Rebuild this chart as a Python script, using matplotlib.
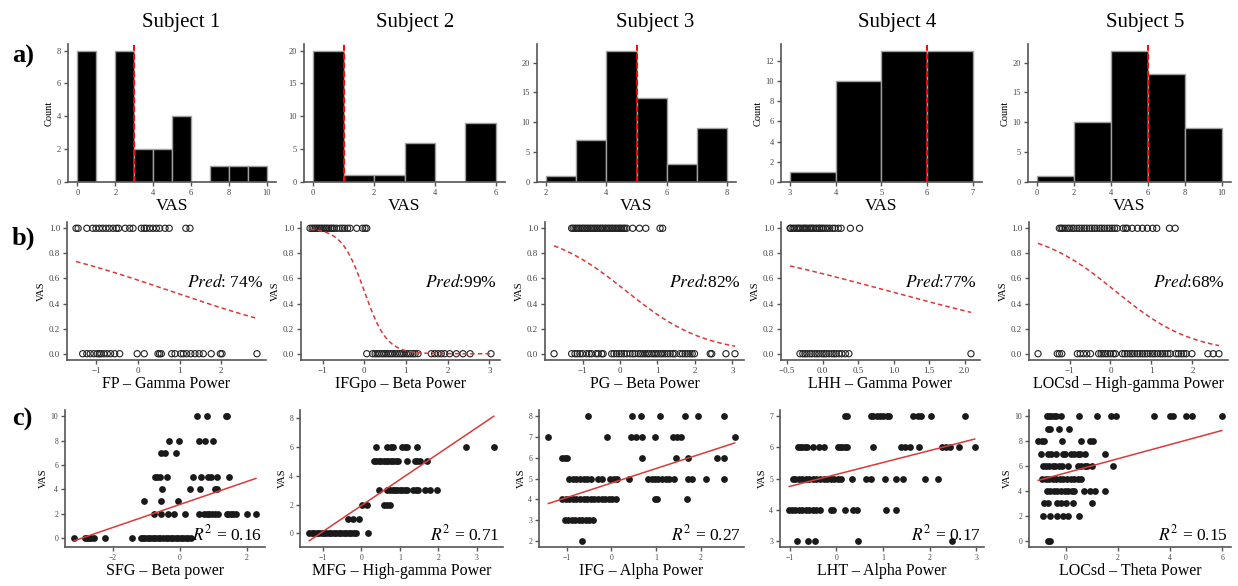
import numpy as np
import matplotlib
matplotlib.use('Agg')
import matplotlib.pyplot as plt

plt.rcParams['font.family'] = ['Liberation Serif', 'DejaVu Serif']
plt.rcParams['mathtext.fontset'] = 'stix'

subjects = ['Subject 1', 'Subject 2', 'Subject 3', 'Subject 4', 'Subject 5']

# a) VAS histograms
hist_edges = [
    [0, 1, 2, 3, 4, 5, 6, 7, 8, 9, 10],
    [0, 1, 2, 3, 4, 5, 6],
    [2, 3, 4, 5, 6, 7, 8],
    [3, 4, 5, 6, 7],
    [0, 2, 4, 6, 8, 10],
]
hist_counts = [
    [8, 0, 8, 2, 2, 4, 0, 1, 1, 1],
    [20, 1, 1, 6, 0, 9],
    [1, 7, 22, 14, 3, 9],
    [1, 10, 13, 13],
    [1, 10, 22, 18, 9],
]
vas_split = [3, 1, 5, 6, 6]

# b) logistic classification (x values of the high / low VAS trials)
b_labels = ['FP – Gamma Power', 'IFGpo – Beta Power', 'PG – Beta Power',
            'LHH – Gamma Power', 'LOCsd – High-gamma Power']
b_hi = [
    [-1.49, -1.44, -1.23, -1.09, -1.01, -0.93, -0.85, -0.77, -0.69, -0.60, -0.52, -0.47, -0.31,
     -0.20, -0.12, 0.08, 0.15, 0.20, 0.28, 0.36, 0.44, 0.52, 0.65, 0.75, 1.15, 1.25],
    [-1.30, -1.25, -1.21, -1.17, -1.13, -1.09, -1.05, -1.01, -0.97, -0.93, -0.89, -0.85, -0.80,
     -0.76, -0.72, -0.66, -0.58, -0.52, -0.47, -0.40, -0.34, -0.18, -0.04, 0.02, 0.06],
    [-1.29, -1.25, -1.20, -1.16, -1.11, -1.07, -1.02, -0.98, -0.94, -0.89, -0.85, -0.80, -0.76,
     -0.71, -0.67, -0.62, -0.58, -0.53, -0.49, -0.45, -0.40, -0.36, -0.31, -0.27, -0.22, -0.18,
     -0.13, -0.09, -0.04, 0.00, 0.04, 0.09, 0.13, 0.18, 0.34, 0.52, 0.69, 1.07, 1.14],
    [-0.46, -0.45, -0.42, -0.40, -0.37, -0.35, -0.33, -0.31, -0.28, -0.26, -0.24, -0.22, -0.19,
     -0.17, -0.15, -0.13, -0.10, -0.08, -0.05, -0.04, -0.01, 0.01, 0.04, 0.07, 0.10, 0.14, 0.17,
     0.22, 0.26, 0.39, 0.52],
    [-1.25, -1.21, -1.17, -1.11, -1.05, -1.00, -0.94, -0.89, -0.82, -0.76, -0.70, -0.64, -0.58,
     -0.51, -0.45, -0.39, -0.33, -0.26, -0.21, -0.15, -0.08, -0.02, 0.04, 0.10, 0.16, 0.31, 0.37,
     0.41, 0.53, 0.66, 0.78, 0.90, 1.03, 1.13, 1.44, 1.58],
]
b_lo = [
    [-1.33, -1.23, -1.15, -1.06, -0.98, -0.93, -0.89, -0.82, -0.74, -0.66, -0.56, -0.44, -0.02,
     0.15, 0.48, 0.52, 0.56, 0.81, 0.89, 1.03, 1.09, 1.17, 1.27, 1.37, 1.47, 1.57, 1.76, 1.98,
     2.02, 2.86],
    [0.06, 0.20, 0.26, 0.31, 0.36, 0.42, 0.47, 0.52, 0.58, 0.63, 0.68, 0.74, 0.79, 0.85, 0.90,
     0.95, 1.01, 1.06, 1.11, 1.17, 1.22, 1.29, 1.61, 1.69, 1.77, 1.85, 1.93, 2.05, 2.21, 2.37,
     2.54, 3.04],
    [-1.76, -1.29, -1.20, -1.14, -1.07, -1.00, -0.89, -0.82, -0.76, -0.64, -0.58, -0.49, -0.45,
     -0.22, -0.16, -0.09, -0.02, 0.04, 0.11, 0.18, 0.27, 0.34, 0.40, 0.49, 0.55, 0.61, 0.67,
     0.73, 0.78, 0.85, 0.91, 0.96, 1.02, 1.09, 1.14, 1.20, 1.27, 1.34, 1.41, 1.47, 1.60, 1.67,
     1.74, 1.80, 1.87, 1.93, 1.99, 2.41, 2.45, 2.83, 3.07],
    [-0.32, -0.28, -0.25, -0.22, -0.18, -0.15, -0.11, -0.08, -0.05, -0.01, 0.02, 0.05, 0.09,
     0.13, 0.16, 0.19, 0.23, 0.27, 0.32, 0.37, 2.09],
    [-1.77, -1.30, -1.25, -1.19, -0.81, -0.74, -0.66, -0.58, -0.49, -0.29, -0.23, -0.18, -0.12,
     -0.07, 0.00, 0.07, 0.12, 0.29, 0.35, 0.41, 0.48, 0.53, 0.59, 0.66, 0.72, 0.78, 0.84, 0.90,
     0.97, 1.03, 1.08, 1.15, 1.22, 1.27, 1.33, 1.40, 1.46, 1.60, 1.66, 1.73, 1.79, 1.85, 1.99,
     2.38, 2.51, 2.65],
]
logit_b0 = [0.35, 0.0, 0.155, 0.566, 0.124]
logit_b1 = [-0.45, -3.7, -0.946, -0.61, -1.054]
pred_acc = [74, 99, 82, 77, 68]
pred_sep = [' ', '', '', '', '']
b_xticks = [[-1, 0, 1, 2], [-1, 0, 1, 2, 3], [-1, 0, 1, 2, 3],
            [-0.5, 0.0, 0.5, 1.0, 1.5, 2.0], [-1, 0, 1, 2]]

# c) linear regression, VAS value -> feature values
c_labels = ['SFG – Beta power', 'MFG – High-gamma Power', 'IFG – Alpha Power',
            'LHT – Alpha Power', 'LOCsd – Theta Power']
c1 = {
    10: [0.52, 0.80, 1.37, 1.42],
    8: [-0.34, -0.02, 0.56, 0.74, 1.00],
    7: [-0.55, -0.45, -0.13],
    5: [-0.75, -0.68, -0.60, -0.38, 0.40, 0.62, 0.85, 0.92, 1.10, 1.46],
    4: [-0.52, 0.30, 0.60, 1.05, 1.12],
    3: [-1.07, -0.57, -0.05],
    2: [-0.77, -0.55, -0.35, -0.17, 0.15, 0.58, 0.72, 0.80, 0.88, 0.95, 1.05, 1.15, 1.40, 1.45,
        1.52, 1.60, 1.68, 2.02, 2.28],
    0: [-3.17, -2.83, -2.78, -2.72, -2.65, -2.57, -2.25, -1.43, -1.17, -1.10, -1.03, -0.95,
        -0.88, -0.80, -0.73, -0.65, -0.58, -0.50, -0.43, -0.35, -0.28, -0.20, -0.13, -0.05,
        0.02, 0.10, 0.17, 0.25, 0.32],
}
c2 = {
    6: [0.38, 0.68, 0.76, 0.83, 1.06, 1.13, 1.19, 1.45, 2.72, 3.45],
    5: [0.32, 0.38, 0.45, 0.51, 0.58, 0.64, 0.70, 0.76, 0.83, 0.89, 0.96, 1.18, 1.39, 1.45,
        1.52, 1.71],
    3: [0.45, 0.68, 0.75, 0.82, 0.88, 0.94, 1.00, 1.06, 1.13, 1.19, 1.35, 1.41, 1.48, 1.65,
        1.78, 1.97],
    2: [0.02, 0.15, 0.58, 0.66, 0.75],
    1: [-0.35, -0.22, -0.05],
    0: [-1.36, -1.30, -1.23, -1.17, -1.10, -1.04, -0.97, -0.91, -0.84, -0.78, -0.71, -0.65,
        -0.58, -0.52, -0.45, -0.39, -0.33, -0.27, -0.20, -0.14, 0.16],
}
c3 = {
    8: [-0.53, 0.47, 0.66, 1.09, 1.65, 1.94, 2.52],
    7: [-1.41, -0.09, 0.45, 0.55, 0.69, 0.98, 1.38, 1.46, 1.56, 2.76],
    6: [-1.10, -1.04, -0.99, 0.69, 1.44, 1.72, 2.36, 2.52],
    5: [-0.94, -0.86, -0.78, -0.69, -0.62, -0.54, -0.46, -0.30, -0.22, -0.03, 0.05, 0.13, 0.39,
        0.82, 0.90, 0.98, 1.05, 1.14, 1.22, 1.29, 1.40, 1.72, 1.80, 2.12, 2.52],
    4: [-1.10, -1.01, -0.94, -0.86, -0.78, -0.70, -0.62, -0.54, -0.46, -0.38, -0.30, -0.22,
        -0.14, -0.06, 0.02, 0.10, 0.98, 1.03, 1.70],
    3: [-1.04, -0.97, -0.88, -0.81, -0.72, -0.65, -0.56, -0.49, -0.40],
    2: [-0.65],
}
c4 = {
    7: [0.18, 0.23, 0.74, 0.79, 0.87, 0.94, 1.01, 1.09, 1.14, 1.65, 1.75, 1.82, 2.03, 2.76],
    6: [-0.83, -0.78, -0.73, -0.68, -0.63, -0.51, -0.37, -0.27, 0.03, 0.08, 0.13, 0.18, 0.23,
        0.79, 1.38, 1.48, 1.58, 1.78, 2.26, 2.36, 2.43, 2.63, 2.97],
    5: [-0.93, -0.88, -0.81, -0.73, -0.65, -0.58, -0.51, -0.43, -0.34, -0.27, -0.20, -0.12,
        -0.04, 0.03, 0.10, 0.33, 0.64, 0.74, 1.04, 1.28, 1.42, 1.90, 2.18],
    4: [-1.01, -0.95, -0.88, -0.81, -0.73, -0.65, -0.58, -0.51, -0.43, -0.34, -0.12, -0.07,
        0.18, 0.36, 0.44, 1.07, 1.28],
    3: [-0.85, -0.61, -0.45, 0.47, 2.49],
}
c5 = {
    10: [-0.73, -0.64, -0.55, -0.46, -0.37, -0.18, 0.51, 1.19, 1.74, 1.92, 3.38, 3.99, 4.11,
         4.61, 4.84, 5.98],
    9: [-0.69, -0.59, -0.27, 0.13],
    8: [-1.06, -0.91, -0.82, -0.15, 0.59, 0.91, 1.06],
    7: [-0.95, -0.69, -0.55, -0.37, -0.09, -0.04, 0.18, 0.33, 0.46, 0.55, 0.73, 1.50],
    6: [-0.88, -0.77, -0.64, -0.51, -0.40, -0.27, -0.15, 0.09, 0.46, 0.59, 0.73, 0.82, 1.01,
        1.79],
    5: [-0.91, -0.77, -0.64, -0.51, -0.37, -0.22, -0.09, 0.04, 0.18, 0.33, 0.46, 0.59],
    4: [-0.73, -0.59, -0.46, -0.33, -0.18, -0.04, 0.09, 0.22, 0.33, 0.69, 0.91, 1.13, 1.50],
    3: [-0.82, -0.69, -0.33, -0.18, 0.00, 0.27, 1.01],
    2: [-0.88, -0.59, -0.33, -0.09, 0.09, 0.51],
    0: [-0.69, -0.59],
}
c_points = [c1, c2, c3, c4, c5]
lin_a = [2.75, 1.93, 4.78, 5.13, 5.45]
lin_b = [0.94, 1.79, 0.70, 0.383, 0.569]
r2 = [0.16, 0.71, 0.27, 0.17, 0.15]
c_xticks = [[-2, 0, 2], [-1, 0, 1, 2, 3], [-1, 0, 1, 2], [-1, 0, 1, 2, 3], [0, 2, 4, 6]]
c_yticks = [[0, 2, 4, 6, 8, 10], [0, 2, 4, 6, 8], [2, 3, 4, 5, 6, 7, 8], [3, 4, 5, 6, 7],
            [0, 2, 4, 6, 8, 10]]

# layout (pixels)
W, H = 1238, 586
fig = plt.figure(figsize=(W / 100, H / 100), dpi=100)


def add_ax(left, top, w, h):
    return fig.add_axes([left / W, 1 - (top + h) / H, w / W, h / H])


def style(ax, fs):
    for s in ['top', 'right']:
        ax.spines[s].set_visible(False)
    for s in ['left', 'bottom']:
        ax.spines[s].set_color('#555555')
        ax.spines[s].set_linewidth(1.2)
    ax.tick_params(colors='#555555', labelcolor='#444444', labelsize=fs, length=3, width=1, pad=2)


red = '#d93a3a'
rows_left = [[68, 304, 537, 781, 1028], [67, 301, 545, 781, 1029], [65, 300, 539, 780, 1029]]
rows_w = [[208, 201, 199, 201, 203], [199, 199, 199, 199, 199], [200, 203, 205, 204, 202]]
rows_top = [44, 222, 410]
rows_h = [138, 138, 137]
title_x = [181, 415, 655, 897, 1145]

for i in range(5):
    # row a
    ax = add_ax(rows_left[0][i], rows_top[0], rows_w[0][i], rows_h[0])
    style(ax, 6)
    e = np.array(hist_edges[i], dtype=float)
    c = np.array(hist_counts[i])
    m = c > 0
    ax.bar(e[:-1][m], c[m], width=np.diff(e)[m], align='edge', color='black',
           edgecolor='#a0a0a0', linewidth=1)
    ax.axvline(vas_split[i], color='red', linestyle='--', linewidth=1.4, dashes=(3, 1.5))
    ax.set_xticks(e[::2] if len(e) > 7 else e[::2] if i < 3 else e)
    ax.set_xlabel('VAS', fontsize=12.5, labelpad=1)
    if i not in (1, 2):
        ax.set_ylabel('Count', fontsize=7.5, labelpad=2)
    fig.text(title_x[i] / W, 1 - 27 / H, subjects[i], fontsize=15, ha='center', va='baseline')

    # row b
    ax = add_ax(rows_left[1][i], rows_top[1], rows_w[1][i], rows_h[1])
    style(ax, 6.5)
    hi = np.array(b_hi[i])
    lo = np.array(b_lo[i])
    ax.scatter(hi, np.ones_like(hi), s=20, facecolors='none', edgecolors='#222222', linewidths=0.8)
    ax.scatter(lo, np.zeros_like(lo), s=20, facecolors='none', edgecolors='#222222', linewidths=0.8)
    xs = np.linspace(min(hi.min(), lo.min()), max(hi.max(), lo.max()), 200)
    p = 1 / (1 + np.exp(-(logit_b0[i] + logit_b1[i] * xs)))
    ax.plot(xs, p, color=red, linestyle='--', linewidth=1.1, dashes=(3, 2), zorder=3)
    ax.set_xticks(b_xticks[i])
    ax.set_yticks([0, 0.2, 0.4, 0.6, 0.8, 1.0])
    ax.set_yticklabels(['0.0', '0.2', '0.4', '0.6', '0.8', '1.0'])
    ax.set_xlabel(b_labels[i], fontsize=11.5, labelpad=1)
    ax.set_ylabel('VAS', fontsize=7.5, labelpad=2)
    ax.text(0.985, 0.56, '$Pred$:' + pred_sep[i] + '%d%%' % pred_acc[i], transform=ax.transAxes,
            ha='right', va='center', fontsize=12.5)

    # row c
    ax = add_ax(rows_left[2][i], rows_top[2], rows_w[2][i], rows_h[2])
    style(ax, 5.5)
    d = c_points[i]
    x = np.concatenate([np.array(v) for v in d.values()])
    y = np.concatenate([np.full(len(v), k) for k, v in d.items()])
    ax.scatter(x, y, s=24, color='#1a1a1a', linewidths=0)
    xs = np.array([x.min(), x.max()])
    ax.plot(xs, lin_a[i] + lin_b[i] * xs, color=red, linewidth=1.1, zorder=3)
    ax.set_xticks(c_xticks[i])
    ax.set_yticks(c_yticks[i])
    ax.set_xlabel(c_labels[i], fontsize=11.5, labelpad=1)
    ax.set_ylabel('VAS', fontsize=7.5, labelpad=2)
    ax.text(0.985, 0.09, '$R^2$ = %.2f' % r2[i], transform=ax.transAxes,
            ha='right', va='center', fontsize=12.5)

for lab, yc in zip(['a)', 'b)', 'c)'], [56, 238, 419]):
    fig.text(12 / W, 1 - yc / H, lab, fontsize=19, fontweight='bold', va='center', ha='left')

fig.savefig('out.png', dpi=100)
